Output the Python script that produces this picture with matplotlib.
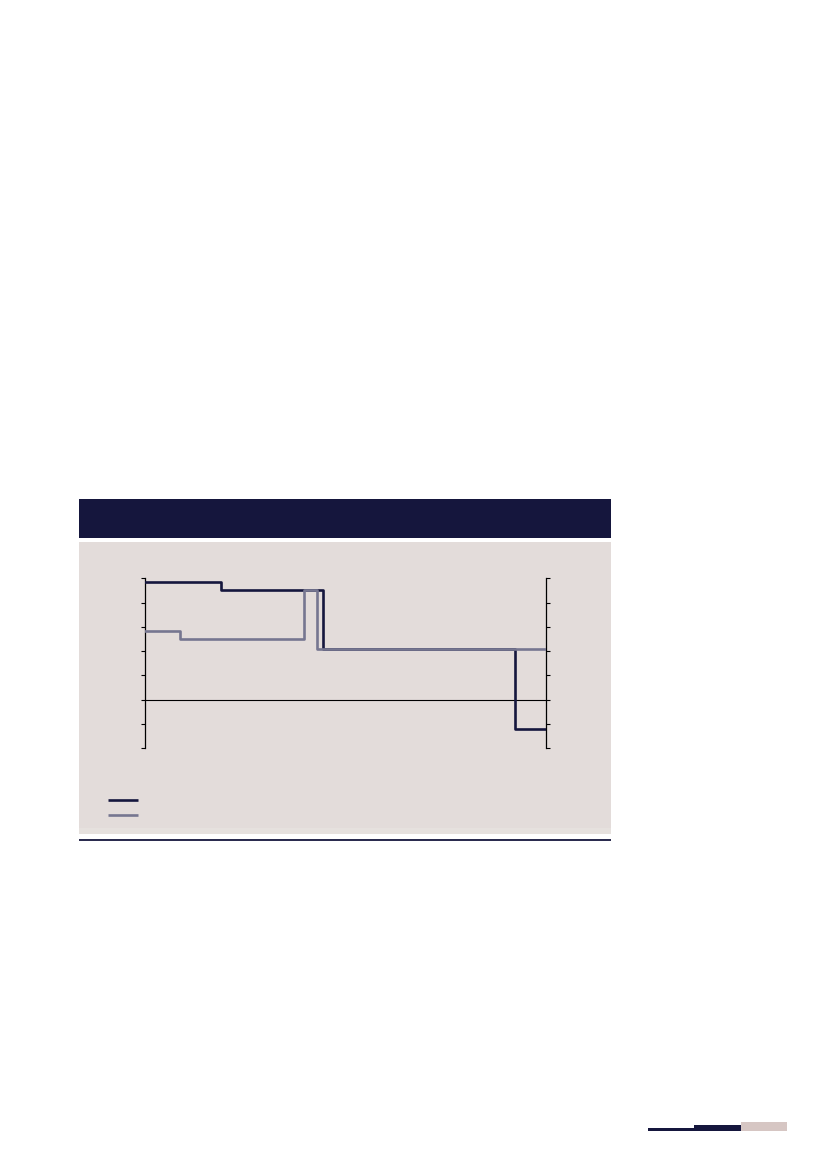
import matplotlib
matplotlib.use("Agg")
import matplotlib.pyplot as plt
from matplotlib.patches import Rectangle
from matplotlib.lines import Line2D

# colours
navy = "#15163d"
slate = "#767690"
panelColour = "#e3dcda"
stripColour = "#e6e1de"
pinkGrey = "#d6c6c3"

# step series (x in % of the period shown, value where each step begins)
darkX = [0, 19.0, 44.4, 92.3, 100]
darkY = [4.85, 4.5, 2.1, -1.2, -1.2]
greyX = [0, 8.7, 39.7, 42.8, 100]
greyY = [2.85, 2.5, 4.5, 2.1, 2.1]

yTicks = [-2, -1, 0, 1, 2, 3, 4, 5]

W, H = 827, 1169
fig = plt.figure(figsize=(W / 100, H / 100), dpi=100)
fig.patch.set_facecolor("white")


def box(x0, y0, x1, y1, colour):
    # pixel box (top-left origin) -> figure fraction rectangle
    fig.patches.append(Rectangle((x0 / W, 1 - y1 / H), (x1 - x0) / W, (y1 - y0) / H,
                                 transform=fig.transFigure, facecolor=colour,
                                 edgecolor="none", zorder=0))


def hline(x0, x1, y, colour, lw):
    fig.add_artist(Line2D([x0 / W, x1 / W], [1 - y / H, 1 - y / H],
                          transform=fig.transFigure, color=colour, lw=lw,
                          solid_capstyle="butt", zorder=2))


# header bar, panel and rule below
box(78.5, 499.3, 610.5, 538.3, navy)
box(78.5, 541.7, 610.5, 834.3, panelColour)
box(78.5, 827.7, 610.5, 834.3, stripColour)
hline(78.5, 610.5, 840, navy, 1.3)

# chart
ax = fig.add_axes([145 / W, 1 - 748.3 / H, (546 - 145) / W, (748.3 - 578.3) / H])
ax.set_zorder(3)
ax.patch.set_visible(False)
ax.step(darkX, darkY, where="post", color=navy, lw=1.9, zorder=3)
ax.step(greyX, greyY, where="post", color=slate, lw=1.9, zorder=4)
ax.axhline(0, color="black", lw=0.8, zorder=2)
ax.set_xlim(0, 100)
ax.set_ylim(-2, 5)
ax.set_yticks(yTicks)
ax.set_xticks([])
ax.tick_params(axis="y", left=True, right=True, direction="out", length=3,
               width=0.8, labelleft=False, labelright=False)
for side in ["top", "bottom"]:
    ax.spines[side].set_visible(False)
for side in ["left", "right"]:
    ax.spines[side].set_linewidth(0.9)

# legend keys
hline(108.3, 137.7, 800.3, navy, 1.9)
hline(108.3, 137.7, 815.0, slate, 1.9)

# page marks bottom right
box(648, 1127.7, 694, 1130.7, navy)
box(694, 1125, 740.5, 1130.7, navy)
box(740.5, 1122, 786.7, 1130.7, pinkGrey)

fig.savefig("out.png", dpi=100)
